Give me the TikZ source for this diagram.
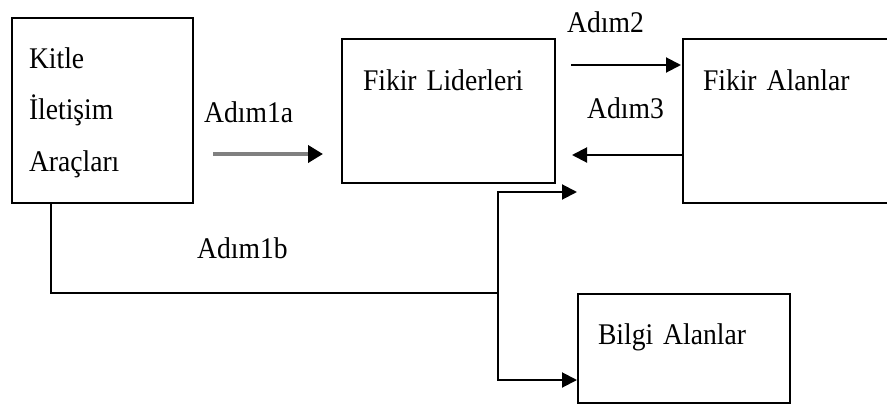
\documentclass[tikz,border=0pt]{standalone}
\usepackage{fontspec}
\setmainfont{Liberation Serif}[FakeStretch=0.92,WordSpace=0.6]
\usetikzlibrary{arrows.meta}
\definecolor{okgri}{RGB}{128,128,128}
\tikzset{
    kutu/.style={
           rectangle,
           draw=black, line width=2pt,
           anchor=north west,
           inner ysep=0pt,
           inner xsep=20pt,
           align=left,
           font=\fontsize{30}{51.5}\selectfont,
           },
    adim/.style={
           anchor=base west,
           inner sep=0pt,
           font=\fontsize{30}{36}\selectfont,
           },
    ok/.style={->, line width=2pt},
}
\begin{document}
\begin{tikzpicture}[x=1pt,y=-1pt,>={Triangle[length=15pt,width=15pt]}]
 \clip (0,0) rectangle (887,407);
 \node[kutu,
 inner xsep=17pt,
 text width=147pt,
 text height=50pt,
 text depth=135pt] (KIA) at (11,17)
 {Kitle\\İletişim\\Araçları};
 \node[kutu,
 inner xsep=21pt,
 text width=171pt,
 text height=51pt,
 text depth=93pt] (FL) at (341,38)
 {Fikir Liderleri};
 \node[kutu,
 text width=183pt,
 text height=51pt,
 text depth=113pt] (FA) at (682,38)
 {Fikir Alanlar};
 \node[kutu,
 text width=172pt,
 text height=50pt,
 text depth=59pt] (BA) at (577,293)
 {Bilgi Alanlar};

 % labels of the steps
 \node[adim] (A1a) at (204,122) {Adım1a};
 \node[adim] (A2) at (567,32) {Adım2};
 \node[adim] (A3) at (587,118) {Adım3};
 \node[adim] (A1b) at (197,258) {Adım1b};

 % draw the paths
 \draw[ok, draw=okgri, line width=4.5pt,
   -{Triangle[length=15pt,width=17pt,color=black]},
   shorten <=19pt, shorten >=18pt]
   ([yshift=50pt]KIA.south east) -- ([yshift=30pt]FL.south west);
 \draw[ok, shorten <=15pt, shorten >=1pt]
   ([yshift=-27pt]FL.north east) -- ([yshift=-27pt]FA.north west);
 \draw[ok, shorten >=16pt]
   ([yshift=49pt]FA.south west) -- ([yshift=29pt]FL.south east);
 \coordinate (kavsak) at (498,293);
 \coordinate (ucu) at (577,192);
 \draw[line width=2pt] ([xshift=40pt]KIA.south west) |- (kavsak);
 \draw[ok] (kavsak) |- (ucu);
 \draw[ok] (kavsak) |- ([yshift=24pt]BA.south west);
\end{tikzpicture}
\end{document}
